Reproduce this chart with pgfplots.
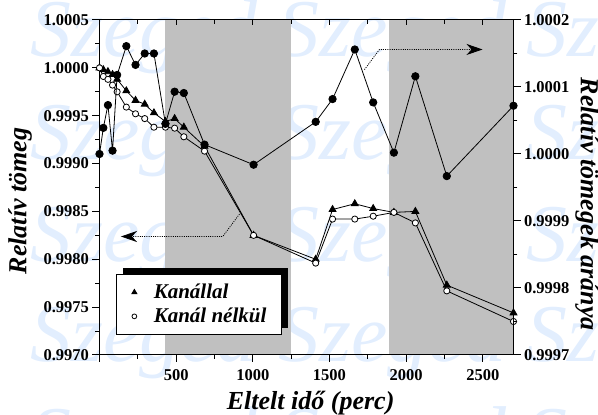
\documentclass[border=0pt]{standalone}
\usepackage{fontspec}
\setmainfont{Liberation Serif}
\usepackage{pgfplots}
\usepackage{pgfplotstable}
\pgfplotsset{compat=1.18}
\usetikzlibrary{arrows.meta,shadows}

\definecolor{wm}{RGB}{226,238,254}
\definecolor{band}{RGB}{192,192,192}

% t: eltelt ido (perc); kan: Kanallal; nel: Kanal nelkul; arany: tomegek aranya
\pgfplotstableread{
t     kan      nel      arany
0     1.00000  1.00000  1.000000
25    0.99998  0.99991  1.000039
55    0.99996  0.99988  1.000073
85    0.99993  0.99982  1.000005
115   0.99988  0.99975  1.000118
175   0.99976  0.99959  1.000161
235   0.99966  0.99952  1.000133
295   0.99962  0.99947  1.000150
355   0.99953  0.99938  1.000150
430   0.99944  0.99938  1.000045
490   0.99947  0.99937  1.000093
550   0.99938  0.99928  1.000091
685   0.99918  0.99913  1.000014
1005  0.99825  0.99825  0.999984
1410  0.99800  0.99796  1.000048
1520  0.99852  0.99842  1.000082
1665  0.99858  0.99842  1.000156
1785  0.99853  0.99845  1.000077
1920  0.99849  0.99849  1.000002
2060  0.99850  0.99838  1.000116
2265  0.99773  0.99767  0.999967
2700  0.99744  0.99735  1.000072
}\meres

\pgfplotsset{
  base/.style={
    at={(0,0)}, anchor=south west,
    scale only axis, width=414pt, height=335pt,
    xmin=0, xmax=2700,
    axis line style={line width=1pt},
    every tick/.style={black, line width=1pt},
    major tick length=7pt, minor tick length=4pt,
    tick label style={font=\fontsize{16.5}{16.5}\selectfont\bfseries},
    /pgf/number format/assume math mode=true,
    /pgf/number format/1000 sep={},
    label style={font=\fontsize{26}{26}\selectfont\bfseries\itshape},
  },
}

\begin{document}
\begin{tikzpicture}[x=1pt,y=1pt]

% Szeged watermark
\foreach \yy in {298,195,93,-7,-109}{
  \node[anchor=base west, inner sep=0pt, text=wm,
        font=\fontsize{82}{82}\selectfont\itshape] at (-69.5,\yy) {Szeged Szeged Szeged};
}

% left axis: relativ tomeg
\begin{axis}[base, axis on top,
  axis x line*=bottom, axis y line*=left,
  tick align=outside,
  ymin=0.9970, ymax=1.0005,
  xtick={0,500,1000,1500,2000,2500},
  xticklabels={,500,1000,1500,2000,2500},
  xticklabel style={yshift=-4pt},
  minor x tick num=1,
  ytick={0.9970,0.9975,0.9980,0.9985,0.9990,0.9995,1.0000,1.0005},
  minor y tick num=1,
  scaled y ticks=false,
  yticklabel style={/pgf/number format/.cd, fixed, fixed zerofill, precision=4},
  xlabel={Eltelt idő (perc)},
  ylabel={Relatív tömeg},
  xlabel style={at={(axis description cs:0.51,0)}, anchor=base, yshift=-55pt},
  ylabel style={at={(axis description cs:-0.192,0.46)}, anchor=center},
  legend style={at={(axis description cs:0.041,0.06)}, anchor=south west,
    draw=black, line width=1pt, fill=white,
    drop shadow={shadow xshift=6.5pt, shadow yshift=6pt, fill=black, opacity=1},
    font=\fontsize{21}{21}\selectfont\bfseries\itshape,
    nodes={inner sep=0pt},
    inner xsep=15pt, inner ysep=10pt, row sep=8pt, column sep=17pt},
  legend cell align=left,
]
\fill[band] (axis cs:430,0.9970) rectangle (axis cs:1246,1.0005);
\fill[band] (axis cs:1886,0.9970) rectangle (axis cs:2700,1.0005);

\addlegendimage{only marks, mark=triangle*, mark size=2.7pt, black}
\addlegendentry{Kanállal}
\addlegendimage{only marks, mark=*, mark size=2.4pt, mark options={fill=white, draw=black, line width=0.8pt}}
\addlegendentry{Kanál nélkül}

\addplot[forget plot, black, line width=0.8pt, mark=triangle*, mark size=4pt]
  table[x=t, y=kan] {\meres};
\addplot[forget plot, black, line width=0.8pt, mark=*, mark size=3.1pt,
  mark options={fill=white, line width=0.8pt}]
  table[x=t, y=nel] {\meres};

\draw[black, line width=0.8pt, dash pattern=on 1pt off 1.2pt, -{Stealth[length=16pt, width=11pt, inset=5pt]}]
  (axis cs:913,0.998473) -- (axis cs:804,0.998238) -- (axis cs:140,0.998238);
\end{axis}

% right axis: relativ tomegek aranya
\begin{axis}[base,
  axis x line=none, axis y line*=right,
  tick align=outside,
  ymin=0.9997, ymax=1.0002,
  ytick={0.9997,0.9998,0.9999,1.0000,1.0001,1.0002},
  minor y tick num=1,
  scaled y ticks=false,
  yticklabel style={/pgf/number format/.cd, fixed, fixed zerofill, precision=4},
  ylabel={Relatív tömegek aránya},
  ylabel style={at={(axis description cs:1.1775,0.45)}, anchor=center, rotate=180},
]
\addplot[black, line width=0.8pt, mark=*, mark size=3.7pt]
  table[x=t, y=arany] {\meres};

\draw[black, line width=0.8pt, dash pattern=on 1pt off 1.2pt, -{Stealth[length=16pt, width=11pt, inset=5pt]}]
  (axis cs:1728,1.000126) -- (axis cs:1826,1.000156) -- (axis cs:2498,1.000156);
\end{axis}

% top axis ticks
\begin{axis}[base,
  axis x line*=top, axis y line=none,
  tick align=inside,
  major tick length=5pt, minor tick length=4pt,
  ymin=0, ymax=1,
  xtick={0,500,1000,1500,2000,2500},
  xticklabels={},
  minor x tick num=1,
]
\end{axis}

\pgfresetboundingbox
\useasboundingbox (-99.5,-60) rectangle (498.5,355);
\end{tikzpicture}
\end{document}
